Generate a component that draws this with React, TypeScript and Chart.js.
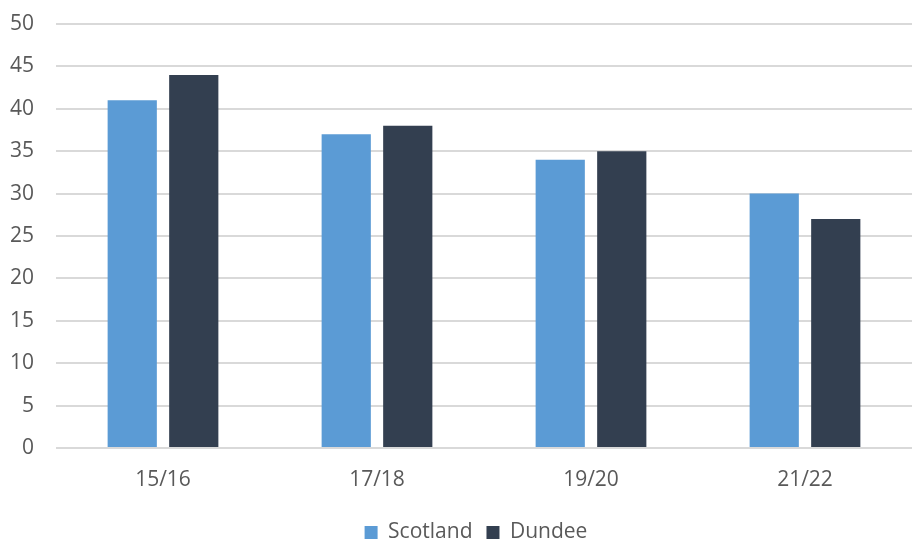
import React, { useEffect, useRef } from "react";
import { Chart, registerables } from "chart.js";

Chart.register(...registerables);

const categories = ["15/16", "17/18", "19/20", "21/22"];
const scotland = [41, 37, 34, 30];
const dundee = [44, 38, 35, 27];
const yMin = 0;
const yMax = 50;
const yStep = 5;

const legendShift = {
  id: "legendShift",
  afterLayout(chart: any) {
    if (chart.legend) {
      chart.legend.left += 20;
      chart.legend.right += 20;
    }
  },
};

export default function App() {
  const ref = useRef<HTMLCanvasElement | null>(null);
  useEffect(() => {
    if (!ref.current) return;
    const font = { family: "'Open Sans', sans-serif", size: 21 };
    const chart = new Chart(ref.current, {
      type: "bar",
      data: {
        labels: categories,
        datasets: [
          { label: "Scotland", data: scotland, backgroundColor: "#5b9bd5", categoryPercentage: 0.575, barPercentage: 0.8 },
          { label: "Dundee", data: dundee, backgroundColor: "#333f50", categoryPercentage: 0.575, barPercentage: 0.8 },
        ],
      },
      options: {
        responsive: false,
        animation: false,
        layout: { padding: { top: 24, right: 0, left: 0, bottom: -12 } },
        plugins: {
          tooltip: { enabled: false },
          legend: {
            position: "bottom",
            labels: {
              boxWidth: 13,
              boxHeight: 13,
              padding: 14,
              color: "#595959",
              font,
            },
          },
        },
        scales: {
          x: {
            grid: { display: false },
            border: { display: false },
            ticks: { color: "#595959", font, padding: 11 },
            afterFit: (s: any) => { s.height = 60; },
          },
          y: {
            min: yMin,
            max: yMax,
            ticks: { stepSize: yStep, color: "#595959", font, padding: 22 },
            grid: { color: "#d9d9d9", lineWidth: 2, drawTicks: false },
            border: { display: false },
            afterFit: (s: any) => { s.width = 56; s.paddingTop = 0; s.paddingBottom = 0; },
          },
        },
      },
      plugins: [legendShift],
    });
    return () => chart.destroy();
  }, []);
  return (
    <div style={{ position: "fixed", left: 0, top: 0, width: 912, height: 541, background: "#fff" }}>
      <canvas ref={ref} width={912} height={541} />
    </div>
  );
}
